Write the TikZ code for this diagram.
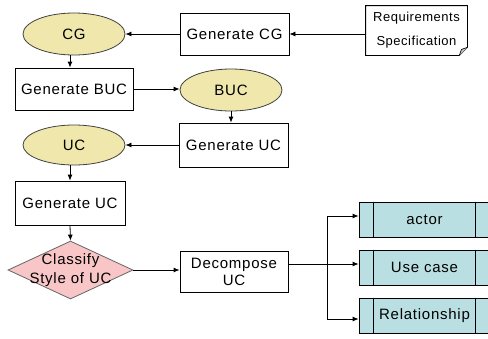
\documentclass[tikz,border=0pt]{standalone}
\usepackage{fontspec}
\setmainfont{Liberation Sans}[LetterSpace=5]
\newfontfamily\reqfont{Liberation Sans}[LetterSpace=4]
\usetikzlibrary{shapes.geometric,arrows.meta}
\definecolor{ellfill}{RGB}{239,231,172}
\definecolor{boxfill}{RGB}{186,223,226}
\definecolor{diafill}{RGB}{248,198,198}
\begin{document}
\begin{tikzpicture}[x=1pt,y=-1pt,
  font=\fontsize{15}{19}\selectfont,
  line width=0.8pt,
  arr/.style={-{Latex[length=6pt,width=5pt]}},
  rectbox/.style={draw=black, fill=white, inner sep=0pt, align=center},
  ell/.style={ellipse, draw=black!75, fill=ellfill, inner sep=0pt, minimum width=102pt},
  dia/.style={diamond, draw=black!60, fill=diafill, inner sep=0pt, minimum width=125pt, minimum height=58pt},
  partbox/.style={draw=black, fill=boxfill, inner sep=0pt, minimum width=131pt, minimum height=35pt}
]
\clip (0,0) rectangle (488,338);
\fill[white] (0,0) rectangle (488,338);

% nodes
\node[ell, minimum height=42pt] (cg) at (74,34) {CG};
\node[rectbox, minimum width=109pt, minimum height=42pt] (gcg) at (234.5,34) {Generate CG};
\node[inner sep=0pt, minimum width=101pt, minimum height=49pt, align=center,
      font=\reqfont\fontsize{13}{24}\selectfont] (req) at (416.5,30.5) {Requirements\\Specification};
\draw[fill=white] (req.north west) -- (req.north east) -- ([yshift=8pt]req.south east)
   -- ([xshift=-8pt]req.south east) -- (req.south west) -- cycle;
\fill[black!25] ([xshift=-8pt]req.south east) -- ([xshift=-6pt,yshift=6pt]req.south east) -- ([yshift=8pt]req.south east) -- cycle;
\draw[line width=0.6pt] ([xshift=-8pt]req.south east) -- ([xshift=-6pt,yshift=6pt]req.south east) -- ([yshift=8pt]req.south east);
\node[inner sep=0pt, align=center, font=\reqfont\fontsize{13}{24}\selectfont] (reqtext) at (req) {Requirements\\Specification};

\node[rectbox, minimum width=118pt, minimum height=42pt] (gbuc) at (74,89) {Generate BUC};
\node[ell, minimum height=42pt] (buc) at (231,90) {BUC};
\node[rectbox, minimum width=109pt, minimum height=44pt] (guc2) at (233.5,145) {Generate UC};
\node[ell, minimum height=40pt] (uc) at (74,145) {UC};
\node[rectbox, minimum width=110pt, minimum height=44pt] (guc1) at (70,203) {Generate UC};
\node[dia] (cls) at (70.5,270) {};
\node[align=center, inner sep=0pt] (clstext) at (cls) {Classify\\Style of UC};
\node[rectbox, minimum width=108pt, minimum height=41pt, font=\fontsize{15}{17}\selectfont] (dec) at (234,271.5) {Decompose\\UC};

\node[partbox] (act) at (424.5,219.5) {actor};
\node[partbox] (ucb) at (424.5,267.5) {Use case};
\node[partbox] (rel) at (424.5,315.5) {Relationship};
\foreach \n in {act,ucb,rel}{
  \draw ([xshift=15pt]\n.north west) -- ([xshift=15pt]\n.south west);
  \draw ([xshift=-15pt]\n.north east) -- ([xshift=-15pt]\n.south east);
}

% connectors
\draw[arr] (req.west |- gcg.east) -- (gcg.east);
\draw[arr] (gcg.west) -- (cg.east);
\draw[arr] ([xshift=-4pt]cg.south) -- ([xshift=-4pt]cg.south |- gbuc.north);
\draw[arr] (gbuc.east) -- (gbuc.east -| buc.west);
\draw[arr] (buc.south) -- (buc.south |- guc2.north);
\draw[arr] (guc2.west) -- (guc2.west -| uc.east);
\draw[arr] ([xshift=-4pt]uc.south) -- ([xshift=-4pt]uc.south |- guc1.north);
\draw[arr] (guc1.south) -- (cls.north);
\draw[arr] (cls.east) -- (cls.east -| dec.west);
\coordinate (br) at (327,264);
\draw ([yshift=7.5pt]dec.east) -- (br);
\draw[arr] (br) |- ([yshift=3.5pt]act.west);
\draw[arr] (br) -- (br -| ucb.west);
\draw[arr] (br) |- ([yshift=-3.5pt]rel.west);
\end{tikzpicture}
\end{document}
